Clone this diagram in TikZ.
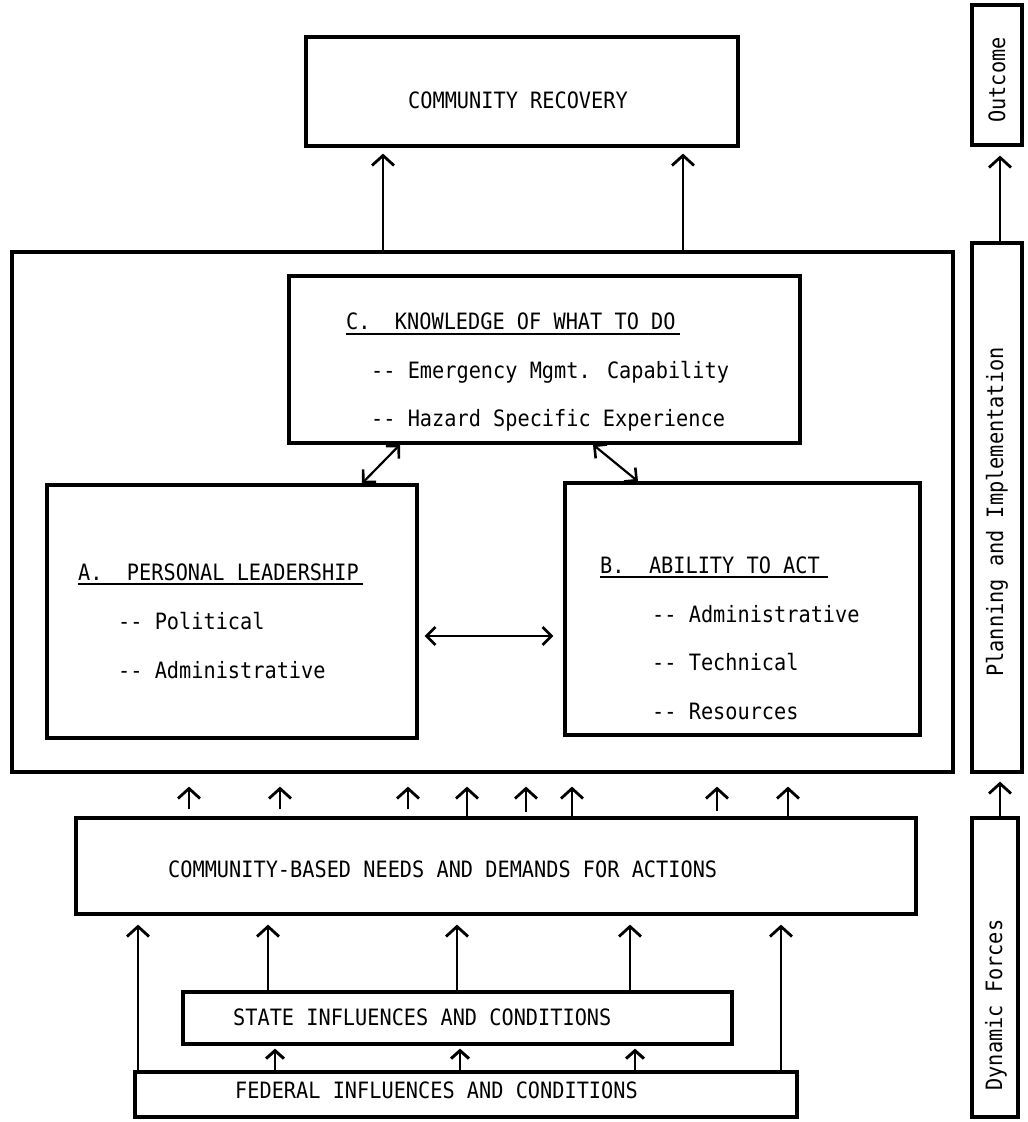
\documentclass[tikz,border=0pt]{standalone}
\usepackage{fontspec}
\newfontfamily\lgfont[FakeStretch=0.9]{DejaVu Sans Mono}
\usetikzlibrary{arrows.meta}
\begin{document}
\begin{tikzpicture}[x=1bp,y=-1bp,
  box/.style={draw, line width=3.2bp, inner sep=0pt},
  lbl/.style={font=\lgfont\fontsize{22.6}{24}\selectfont, inner sep=0pt, anchor=base west},
  side/.style={font=\lgfont\fontsize{22.6}{24}\selectfont, inner sep=0pt, rotate=90},
  arr/.style={line width=2.2bp, -{Straight Barb[length=10bp,width=22bp,line width=2.8bp]}},
  sarr/.style={line width=2.6bp, -{Straight Barb[length=8bp,width=18bp,line width=3bp]}},
  darr/.style={line width=2.2bp, {Straight Barb[length=9bp,width=18bp,line width=2.6bp]}-{Straight Barb[length=9bp,width=18bp,line width=2.6bp]}},
  uline/.style={line width=1.5bp}]
\useasboundingbox (0,0) rectangle (1028,1122);

% boxes
\node[box, minimum width=432bp, minimum height=109bp] (cr) at (522,91.5) {};
\node[box, minimum width=941bp, minimum height=520bp] (pi) at (482.5,512) {};
\node[box, minimum width=511bp, minimum height=167bp] (c) at (544.5,359.5) {};
\node[box, minimum width=370bp, minimum height=253bp] (a) at (232,611.5) {};
\node[box, minimum width=355bp, minimum height=252bp] (b) at (742.5,609) {};
\node[box, minimum width=840bp, minimum height=96bp] (cb) at (496,866) {};
\node[box, minimum width=549bp, minimum height=52bp] (st) at (457.5,1018) {};
\node[box, minimum width=662bp, minimum height=45bp] (fed) at (466,1094.5) {};
\node[box, minimum width=50bp, minimum height=140bp] (out) at (997,75) {};
\node[box, minimum width=50bp, minimum height=529bp] (plan) at (997,507.5) {};
\node[box, minimum width=46bp, minimum height=299bp] (dyn) at (995,967.5) {};

% texts
\node[lbl] (crt) at (408,108) {COMMUNITY RECOVERY};
\node[lbl] (ct) at (346,329) {C.\ \ KNOWLEDGE OF WHAT TO DO};
\node[lbl] (c1) at (371,378) {-- Emergency Mgmt. Capability};
\node[lbl] (c2) at (371,426) {-- Hazard Specific Experience};
\node[lbl] (at) at (78,580) {A.\ \ PERSONAL LEADERSHIP};
\node[lbl] (a1) at (118,629) {-- Political};
\node[lbl] (a2) at (118,678) {-- Administrative};
\node[lbl] (bt) at (600,573) {B.\ \ ABILITY TO ACT};
\node[lbl] (b1) at (652,622) {-- Administrative};
\node[lbl] (b2) at (652,670) {-- Technical};
\node[lbl] (b3) at (652,719) {-- Resources};
\node[lbl] (cbt) at (168,877) {COMMUNITY-BASED NEEDS AND DEMANDS FOR ACTIONS};
\node[lbl] (stt) at (233,1025) {STATE INFLUENCES AND CONDITIONS};
\node[lbl] (fedt) at (235,1098) {FEDERAL INFLUENCES AND CONDITIONS};
\node[side] (outt) at (997,80) {Outcome};
\node[side] (plant) at (997,512) {Planning and Implementation};
\node[side] (dynt) at (996,1005) {Dynamic Forces};

% underlines
\draw[uline] ([yshift=-5bp]ct.base west) -- ([yshift=-5bp,xshift=4bp]ct.base east);
\draw[uline] ([yshift=-4bp]at.base west) -- ([yshift=-4bp,xshift=4bp]at.base east);
\draw[uline] ([yshift=-4bp]bt.base west) -- ([yshift=-4bp,xshift=8bp]bt.base east);

% connectors
\draw[arr, shorten >=6bp] (pi.north -| 383,0) -- (cr.south -| 383,0);
\draw[arr, shorten >=6bp] (pi.north -| 683,0) -- (cr.south -| 683,0);
\draw[arr, shorten >=9bp] (plan.north -| 1000,0) -- (out.south -| 1000,0);
\draw[arr, shorten >=8bp] (dyn.north -| 1000,0) -- (plan.south -| 1000,0);

\foreach \x/\s in {189/7bp, 280/7bp, 408/7bp, 467/0bp, 526/4bp, 572/0bp, 717/5bp, 788/0bp}
  \draw[arr, shorten <=\s, shorten >=13bp] (cb.north -| \x,0) -- (pi.south -| \x,0);

\foreach \x in {268, 457, 630}
  \draw[arr, shorten >=9bp] (st.north -| \x,0) -- (cb.south -| \x,0);
\foreach \x in {138, 781}
  \draw[arr, shorten >=9bp] (fed.north -| \x,0) -- (cb.south -| \x,0);
\foreach \x in {275, 460, 635}
  \draw[sarr, shorten >=3bp] (fed.north -| \x,0) -- (st.south -| \x,0);

\draw[darr, shorten <=6bp, shorten >=10bp] (a.east |- 0,636) -- (b.west |- 0,636);
\draw[darr] (c.south -| 400,0) -- (a.north -| 362,0);
\draw[darr] (c.south -| 593,0) -- (b.north -| 638,0);
\end{tikzpicture}
\end{document}
